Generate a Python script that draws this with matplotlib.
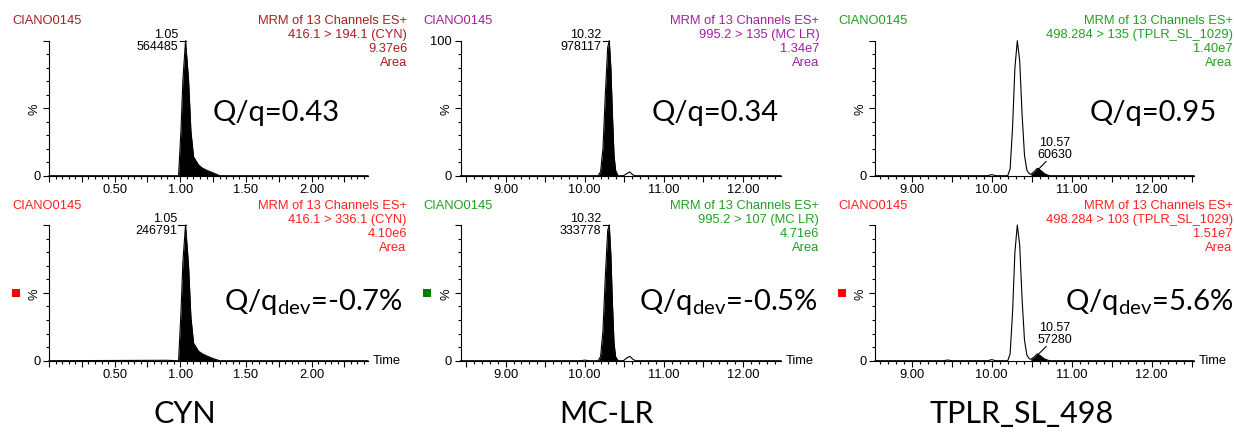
import numpy as np
import matplotlib
matplotlib.use('Agg')
import matplotlib.pyplot as plt
from matplotlib.ticker import MultipleLocator, FuncFormatter
from matplotlib.patches import Rectangle

plt.rcParams['font.family'] = ['Liberation Sans', 'DejaVu Sans']
plt.rcParams['mathtext.fontset'] = 'custom'
plt.rcParams['mathtext.rm'] = 'Lato'
plt.rcParams['mathtext.it'] = 'Lato:italic'

# chromatogram traces (time in min, intensity in %)
cyn_t = [0.00, 0.90, 0.97, 0.987, 1.005, 1.020, 1.040, 1.063, 1.081, 1.101, 1.139, 1.170, 1.202, 1.252, 1.300, 2.43]
cyn_quan = [0, 0, 0, 0, 33, 71, 100, 71, 33, 14, 8, 5.5, 4, 2, 0, 0]
cyn_qual = [0, 0.3, 0, 0, 35, 73, 100, 70, 32, 13, 7, 5, 3.5, 1.5, 0, 0]

mclr_t = [8.43, 9.95, 10.00, 10.05, 10.17, 10.20, 10.23, 10.26, 10.29, 10.31, 10.33, 10.35, 10.37,
          10.39, 10.42, 10.49, 10.53, 10.57, 10.61, 10.64, 12.48]
mclr_quan = [0, 0, 0, 0, 0, 3, 20, 60, 95, 100, 80, 45, 15, 4, 0, 0, 1.5, 2.8, 0.5, 0, 0]
mclr_qual = [0, 0, 0.4, 0, 0, 3, 22, 62, 96, 100, 78, 42, 13, 3, 0, 0, 2, 3.2, 1, 0, 0]

tplr_t = [8.54, 9.40, 9.45, 9.50, 9.95, 10.00, 10.05, 10.20, 10.23, 10.26, 10.29, 10.32, 10.35,
          10.38, 10.41, 10.44, 10.47, 10.49, 10.53, 10.57, 10.61, 10.66, 10.72, 12.53]
tplr_quan = [0, 0, 0, 0, 0, 0.8, 0, 0, 5, 35, 80, 100, 85, 45, 15, 4, 1.5, 1, 3, 5.5, 4, 1.5, 0, 0]
tplr_qual = [0, 0, 0.5, 0, 0, 0.8, 0, 0, 5, 35, 80, 100, 85, 45, 15, 4, 1.5, 1, 2.8, 5, 3.6, 1.3, 0, 0]

# peak annotations: (rt label, area label)
cyn_peaks = [('1.05', '564485'), ('1.05', '246791')]
mclr_peaks = [('10.32', '978117'), ('10.32', '333778')]
tplr_peaks = [('10.57', '60630'), ('10.57', '57280')]

headers = {
    'tl': ['MRM of 13 Channels ES+', '416.1 > 194.1 (CYN)', '9.37e6', 'Area'],
    'tm': ['MRM of 13 Channels ES+', '995.2 > 135 (MC LR)', '1.34e7', 'Area'],
    'tr': ['MRM of 13 Channels ES+', '498.284 > 135 (TPLR_SL_1029)', '1.40e7', 'Area'],
    'bl': ['MRM of 13 Channels ES+', '416.1 > 336.1 (CYN)', '4.10e6', 'Area'],
    'bm': ['MRM of 13 Channels ES+', '995.2 > 107 (MC LR)', '4.71e6', 'Area'],
    'br': ['MRM of 13 Channels ES+', '498.284 > 103 (TPLR_SL_1029)', '1.51e7', 'Area'],
}
ratios = ['Q/q=0.43', 'Q/q=0.34', 'Q/q=0.95']
devs = [r'Q/q$_{\mathrm{dev}}$=-0.7%', r'Q/q$_{\mathrm{dev}}$=-0.5%', r'Q/q$_{\mathrm{dev}}$=5.6%']
names = ['CYN', 'MC-LR', 'TPLR_SL_498']

DARKRED = '#a52020'
PURPLE = '#a020a0'
GREEN = '#20a020'
RED = '#ff2020'

W, H = 1234, 436
fig = plt.figure(figsize=(W / 100, H / 100), dpi=100)


def fx(px):
    return px / W


def fy(py):
    return 1 - py / H


def make_ax(l, r, t, b):
    return fig.add_axes([l / W, 1 - b / H, (r - l) / W, (b - t) / H])


def style_ax(ax, xlim, major, minor, labelled, show100=False, time_label=False):
    ax.set_xlim(xlim)
    ax.set_ylim(0, 100)
    ax.spines['top'].set_visible(False)
    ax.spines['right'].set_visible(False)
    ax.xaxis.set_major_locator(MultipleLocator(major))
    ax.xaxis.set_minor_locator(MultipleLocator(minor))
    ax.xaxis.set_major_formatter(FuncFormatter(
        lambda v, p: f'{v:.2f}' if min(abs(v - l) for l in labelled) < 1e-6 else ''))
    ax.set_yticks([0, 50, 100])
    ax.yaxis.set_minor_locator(MultipleLocator(10))
    ax.set_yticklabels(['0', '%', '100' if show100 else ''])
    ax.get_yticklabels()[1].set_rotation(90)
    ax.tick_params(which='major', length=4, width=0.8, labelsize=9.3, pad=2)
    ax.tick_params(which='minor', length=2.2, width=0.8)
    if time_label:
        ax.text(1.015, 0, 'Time', transform=ax.transAxes, fontsize=9.3, va='center', ha='left')


def trace(ax, t, y, fill_range):
    t = np.array(t)
    y = np.array(y)
    ax.plot(t, y, color='black', lw=0.8, clip_on=False)
    mask = (t >= fill_range[0]) & (t <= fill_range[1])
    ax.fill_between(t, y, where=mask, color='black', lw=0)


def top_label(ax, x_text, x_apex, labels):
    ax.text(x_text, 100, labels[0] + '\n' + labels[1], ha='right', va='center',
            fontsize=9, linespacing=1.0)
    ax.plot([x_text + 0.004 * (ax.get_xlim()[1] - ax.get_xlim()[0]), x_apex], [100, 100],
            color='black', lw=0.8, clip_on=False)


def small_label(ax, labels):
    ax.text(10.79, 11, labels[0] + '\n' + labels[1], ha='center', va='bottom',
            fontsize=9, linespacing=1.0)
    ax.plot([10.68, 10.58], [10.5, 4.5], color='black', lw=0.8)


def header(l, r, top, lines, color):
    fig.text(fx(l), fy(top), 'CIANO0145', color=color, fontsize=9.3, va='center', ha='left')
    for i, line in enumerate(lines):
        fig.text(fx(r), fy(top + i * 14.1), line, color=color, fontsize=9.3, va='center', ha='right')


TOP_T, TOP_B = 40.7, 175.7
BOT_T, BOT_B = 225.0, 360.7
cols = [(49, 368), (460.5, 781), (875, 1194)]

# CYN
ax = make_ax(cols[0][0], cols[0][1], TOP_T, TOP_B)
trace(ax, cyn_t, cyn_quan, (0.95, 1.35))
style_ax(ax, (0, 2.43), 0.25, 0.05, [0.5, 1.0, 1.5, 2.0])
top_label(ax, 0.985, 1.040, cyn_peaks[0])
ax = make_ax(cols[0][0], cols[0][1], BOT_T, BOT_B)
trace(ax, cyn_t, cyn_qual, (0.95, 1.35))
style_ax(ax, (0, 2.43), 0.25, 0.05, [0.5, 1.0, 1.5, 2.0], time_label=True)
top_label(ax, 0.975, 1.040, cyn_peaks[1])

# MC-LR
ax = make_ax(cols[1][0], cols[1][1], TOP_T, TOP_B)
trace(ax, mclr_t, mclr_quan, (10.1, 10.45))
style_ax(ax, (8.43, 12.48), 0.5, 0.1, [9, 10, 11, 12], show100=True)
top_label(ax, 10.21, 10.31, mclr_peaks[0])
ax = make_ax(cols[1][0], cols[1][1], BOT_T, BOT_B)
trace(ax, mclr_t, mclr_qual, (10.1, 10.45))
style_ax(ax, (8.43, 12.48), 0.5, 0.1, [9, 10, 11, 12], time_label=True)
top_label(ax, 10.21, 10.31, mclr_peaks[1])

# TPLR
ax = make_ax(cols[2][0], cols[2][1], TOP_T, TOP_B)
trace(ax, tplr_t, tplr_quan, (10.49, 10.72))
style_ax(ax, (8.54, 12.53), 0.5, 0.1, [9, 10, 11, 12])
small_label(ax, tplr_peaks[0])
ax = make_ax(cols[2][0], cols[2][1], BOT_T, BOT_B)
trace(ax, tplr_t, tplr_qual, (10.49, 10.72))
style_ax(ax, (8.54, 12.53), 0.5, 0.1, [9, 10, 11, 12], time_label=True)
small_label(ax, tplr_peaks[1])

# header texts
header(12.7, 407.3, 21, headers['tl'], DARKRED)
header(423.3, 819.3, 21, headers['tm'], PURPLE)
header(838.3, 1232.7, 21, headers['tr'], GREEN)
header(12.7, 406.7, 206, headers['bl'], RED)
header(423.3, 819.3, 206, headers['bm'], GREEN)
header(838.3, 1232.7, 206, headers['br'], RED)

# ratio texts
for x, s in zip([213, 651.7, 1089.3], ratios):
    fig.text(fx(x), fy(120.7), s, fontsize=21, family='Lato', va='baseline', ha='left')
for x, s in zip([224, 639.3, 1065], devs):
    fig.text(fx(x), fy(310), s, fontsize=21, family='Lato', va='baseline', ha='left')

# status squares
for x, c in zip([12.3, 423.3, 838.3], ['#ff0000', '#008000', '#ff0000']):
    fig.add_artist(Rectangle((fx(x), fy(296.7)), 7.5 / W, 7.5 / H, transform=fig.transFigure,
                             color=c, lw=0))

# compound names
for x, s in zip([185, 607, 1022], names):
    fig.text(fx(x), fy(423), s, fontsize=22, family='Lato', va='baseline', ha='center')

fig.savefig('out.png', dpi=100)
